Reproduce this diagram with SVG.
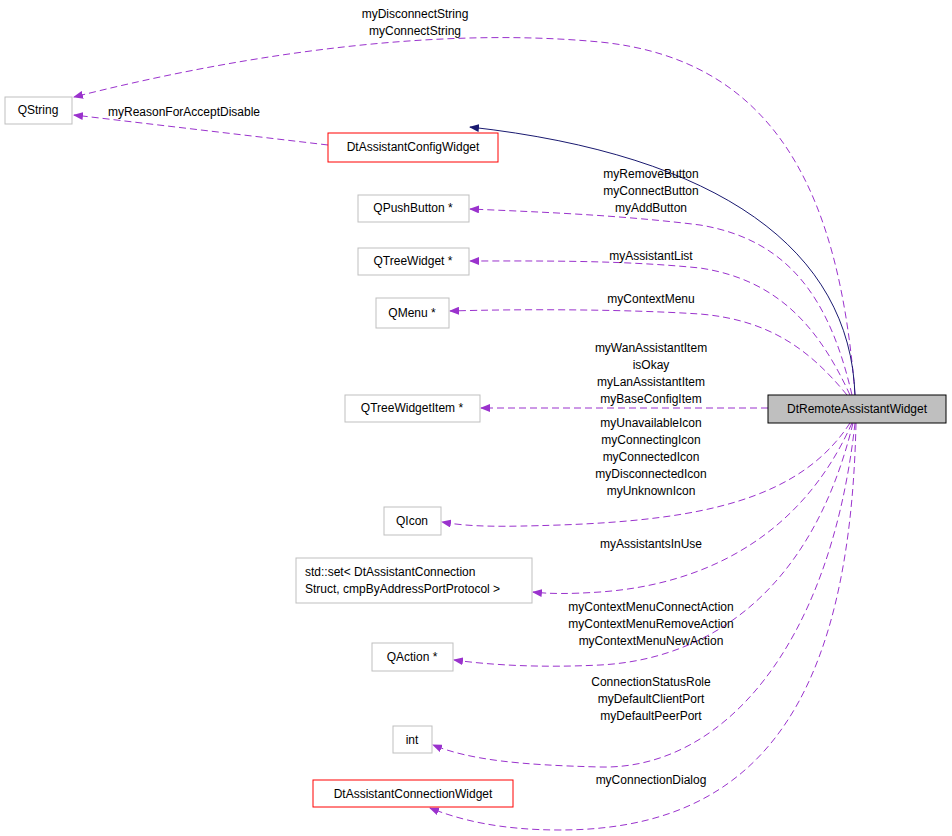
<svg xmlns="http://www.w3.org/2000/svg" width="952" height="836" viewBox="0 0 952 836">
<style>
text{font-family:"Liberation Sans",Arial,sans-serif;font-size:12px;fill:#000}
.n{fill:#fff;stroke:#bfbfbf}
.r{fill:#fff;stroke:#ff0000}
.e{fill:none;stroke:#9a32cd;stroke-dasharray:7,4}
.l{text-anchor:middle}
</style>
<defs>
<marker id="a" markerWidth="10" markerHeight="8" refX="9" refY="4" orient="auto" markerUnits="userSpaceOnUse"><path d="M0,0L10,4L0,8z" fill="#9a32cd"/></marker>
<marker id="b" markerWidth="10" markerHeight="8" refX="9" refY="4" orient="auto" markerUnits="userSpaceOnUse"><path d="M0,0L10,4L0,8z" fill="#191970"/></marker>
</defs>
<rect width="952" height="836" fill="#fff"/>
<g id="edges">
<path d="M855,395C840,200 780,60 600,42C420,25 220,60 74,97" class="e" marker-end="url(#a)"/>
<path d="M328,145L74,115" class="e" marker-end="url(#a)"/>
<path d="M855,395C850,250 720,155 470,127" fill="none" stroke="#191970" marker-end="url(#b)"/>
<path d="M852,395C830,300 790,240 700,225C620,215 540,212 470,209" class="e" marker-end="url(#a)"/>
<path d="M850,395C820,330 780,280 700,268C620,260 540,261 470,261" class="e" marker-end="url(#a)"/>
<path d="M847,395C810,350 770,320 700,314C620,309 520,309 450,311" class="e" marker-end="url(#a)"/>
<path d="M768,408L481,408" class="e" marker-end="url(#a)"/>
<path d="M850,423C800,500 700,520 560,525C500,527 470,527 442,522" class="e" marker-end="url(#a)"/>
<path d="M852,423C800,540 700,585 600,592C570,594 550,594 533,592" class="e" marker-end="url(#a)"/>
<path d="M853,423C810,600 700,660 600,665C540,668 490,665 454,660" class="e" marker-end="url(#a)"/>
<path d="M855,423C830,650 720,770 600,767C520,765 470,760 433,745" class="e" marker-end="url(#a)"/>
<path d="M856,423C850,700 760,830 560,830C500,830 460,820 430,808" class="e" marker-end="url(#a)"/>
</g>
<g id="labels">
<text x="415" y="18" class="l">myDisconnectString</text>
<text x="415" y="35" class="l">myConnectString</text>
<text x="184" y="116" class="l">myReasonForAcceptDisable</text>
<text x="651" y="178" class="l">myRemoveButton</text>
<text x="651" y="195" class="l">myConnectButton</text>
<text x="651" y="212" class="l">myAddButton</text>
<text x="651" y="260" class="l">myAssistantList</text>
<text x="651" y="303" class="l">myContextMenu</text>
<text x="651" y="352" class="l">myWanAssistantItem</text>
<text x="651" y="369" class="l">isOkay</text>
<text x="651" y="386" class="l">myLanAssistantItem</text>
<text x="651" y="403" class="l">myBaseConfigItem</text>
<text x="651" y="427" class="l">myUnavailableIcon</text>
<text x="651" y="444" class="l">myConnectingIcon</text>
<text x="651" y="461" class="l">myConnectedIcon</text>
<text x="651" y="478" class="l">myDisconnectedIcon</text>
<text x="651" y="495" class="l">myUnknownIcon</text>
<text x="651" y="548" class="l">myAssistantsInUse</text>
<text x="651" y="611" class="l">myContextMenuConnectAction</text>
<text x="651" y="628" class="l">myContextMenuRemoveAction</text>
<text x="651" y="645" class="l">myContextMenuNewAction</text>
<text x="651" y="686" class="l">ConnectionStatusRole</text>
<text x="651" y="703" class="l">myDefaultClientPort</text>
<text x="651" y="720" class="l">myDefaultPeerPort</text>
<text x="651" y="784" class="l">myConnectionDialog</text>
</g>
<g id="main"><rect x="768" y="395" width="178" height="28" fill="#bfbfbf" stroke="#000"/><text x="857" y="413" class="l">DtRemoteAssistantWidget</text></g>
<g id="qstring"><rect x="5" y="97" width="67" height="27" class="n"/><text x="38" y="114" class="l">QString</text></g>
<g id="config"><rect x="328" y="133" width="170" height="29" class="r"/><text x="413" y="151" class="l">DtAssistantConfigWidget</text></g>
<g id="qpush"><rect x="358" y="195" width="111" height="27" class="n"/><text x="413" y="212" class="l">QPushButton *</text></g>
<g id="qtree"><rect x="358" y="248" width="111" height="27" class="n"/><text x="413" y="265" class="l">QTreeWidget *</text></g>
<g id="qmenu"><rect x="376" y="298" width="73" height="30" class="n"/><text x="412" y="317" class="l">QMenu *</text></g>
<g id="qtreeitem"><rect x="345" y="395" width="135" height="27" class="n"/><text x="412" y="412" class="l">QTreeWidgetItem *</text></g>
<g id="qicon"><rect x="384" y="507" width="57" height="28" class="n"/><text x="412" y="525" class="l">QIcon</text></g>
<g id="stdset"><rect x="296" y="558" width="236" height="45" class="n"/><text x="305" y="576">std::set&lt; DtAssistantConnection</text><text x="305" y="593">Struct, cmpByAddressPortProtocol &gt;</text></g>
<g id="qaction"><rect x="372" y="643" width="81" height="28" class="n"/><text x="412" y="661" class="l">QAction *</text></g>
<g id="int"><rect x="393" y="726" width="39" height="27" class="n"/><text x="412" y="744" class="l">int</text></g>
<g id="connwidget"><rect x="313" y="780" width="200" height="27" class="r"/><text x="413" y="798" class="l">DtAssistantConnectionWidget</text></g>
</svg>
